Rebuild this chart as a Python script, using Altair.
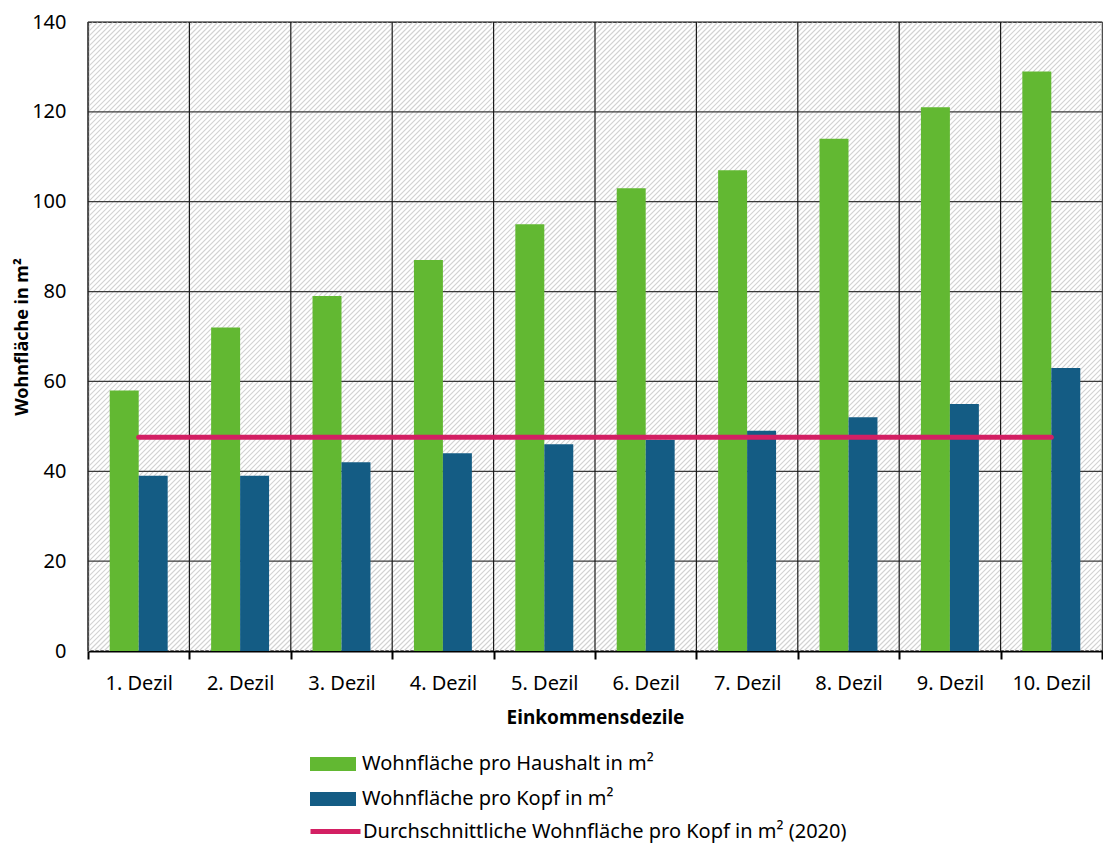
import altair as alt
import pandas as pd

# Wohnfläche nach Einkommensdezilen
DEZILE = ["1. Dezil", "2. Dezil", "3. Dezil", "4. Dezil", "5. Dezil",
          "6. Dezil", "7. Dezil", "8. Dezil", "9. Dezil", "10. Dezil"]
PRO_HAUSHALT = [58, 72, 79, 87, 95, 103, 107, 114, 121, 129]
PRO_KOPF = [39, 39, 42, 44, 46, 47, 49, 52, 55, 63]
DURCHSCHNITT_KOPF_2020 = 47.6
Y_TICKS = [0, 20, 40, 60, 80, 100, 120, 140]

S_HH = "Wohnfläche pro Haushalt in m²"
S_KOPF = "Wohnfläche pro Kopf in m²"
S_AVG = "Durchschnittliche Wohnfläche pro Kopf in m² (2020)"

GREEN = "#62b832"
BLUE = "#145c84"
PINK = "#d31f63"
FONT = "Noto Sans"

W, H = 1014, 629
HATCH_STEP = 5

bars_df = pd.DataFrame({
    "Dezil": DEZILE * 2,
    "Serie": [S_HH] * len(DEZILE) + [S_KOPF] * len(DEZILE),
    "Wert": PRO_HAUSHALT + PRO_KOPF,
})
avg_df = pd.DataFrame({"Dezil": DEZILE, "Serie": S_AVG, "Wert": DURCHSCHNITT_KOPF_2020})
hgrid_df = pd.DataFrame({"Wert": Y_TICKS[1:]})
vgrid_df = pd.DataFrame({"Dezil": DEZILE})

x_axis = alt.Axis(
    title="Einkommensdezile", titleFontSize=19, titleFontWeight="bold", titleColor="black",
    titlePadding=15, labelAngle=0, labelFontSize=20, labelColor="black", labelPadding=14,
    domainColor="black", domainWidth=2, tickColor="black", tickWidth=2, tickSize=8,
    tickBand="extent", grid=False,
)
x_scale = alt.Scale(domain=DEZILE, paddingInner=0, paddingOuter=0)
y_axis = alt.Axis(
    title="Wohnfläche in m²", titleFontSize=18, titleFontWeight="bold", titleColor="black",
    titlePadding=0, values=Y_TICKS, labelFontSize=20, labelColor="black", labelPadding=22,
    ticks=False, domainColor="#8a8a8a", domainWidth=1.5, grid=False,
)
y_scale = alt.Scale(domain=[0, 140], nice=False)

# diagonal hatching of the plot background
hatch = alt.Chart(alt.sequence(0, (W + H) // HATCH_STEP + 2, as_="k")).transform_calculate(
    hx=f"datum.k * {HATCH_STEP} - {H}",
    hx2=f"datum.k * {HATCH_STEP}",
    hy=f"{H}",
    hy2="0",
).mark_rule(color="#d2d2d2", strokeWidth=1.2, clip=True).encode(
    x=alt.X("hx:Q", scale=None, axis=None),
    x2="hx2:Q",
    y=alt.Y("hy:Q", scale=None, axis=None),
    y2="hy2:Q",
)

hgrid = alt.Chart(hgrid_df).mark_rule(color="#3a3a3a", strokeWidth=1.2).encode(
    y=alt.Y("Wert:Q", scale=y_scale, axis=y_axis),
)

vgrid = alt.Chart(vgrid_df).mark_rule(color="#1a1a1a", strokeWidth=1.2).encode(
    x=alt.X("Dezil:N", scale=x_scale, axis=x_axis, bandPosition=0, sort=DEZILE),
)

bars = alt.Chart(bars_df).mark_bar().encode(
    x=alt.X("Dezil:N", scale=x_scale, axis=x_axis, sort=DEZILE),
    xOffset=alt.XOffset("Serie:N", scale=alt.Scale(domain=[S_HH, S_KOPF], paddingInner=0, paddingOuter=0.75)),
    y=alt.Y("Wert:Q", scale=y_scale, axis=y_axis),
    color=alt.Color(
        "Serie:N",
        scale=alt.Scale(domain=[S_HH, S_KOPF], range=[GREEN, BLUE]),
        legend=alt.Legend(
            title=None, orient="none", legendX=222, legendY=719, padding=0,
            symbolType="M-1,-0.3H1V0.3H-1Z", symbolSize=2116, symbolStrokeWidth=0,
            symbolOpacity=1, labelFontSize=20, labelColor="black", labelOffset=6,
            rowPadding=2, labelLimit=600,
        ),
    ),
)

avg_line = alt.Chart(avg_df).mark_line(strokeWidth=5, strokeCap="round").encode(
    x=alt.X("Dezil:N", scale=x_scale, axis=x_axis, sort=DEZILE),
    y=alt.Y("Wert:Q", scale=y_scale, axis=y_axis),
    stroke=alt.Stroke(
        "Serie:N",
        scale=alt.Scale(domain=[S_AVG], range=[PINK]),
        legend=alt.Legend(
            title=None, orient="none", legendX=220, legendY=782, padding=0,
            symbolType="stroke", symbolSize=2500, symbolStrokeWidth=5,
            labelFontSize=20, labelColor="black", labelOffset=0, labelLimit=700,
        ),
    ),
)

chart = alt.layer(hatch, hgrid, vgrid, bars, avg_line).properties(
    width=W, height=H,
    autosize=alt.AutoSizeParams(type="none"),
    padding={"left": 88, "top": 22, "right": 1, "bottom": 192},
).configure(font=FONT).configure_view(stroke="#3a3a3a", strokeWidth=1.2)

chart.save("out.html", embed_options={"renderer": "svg", "actions": False})
